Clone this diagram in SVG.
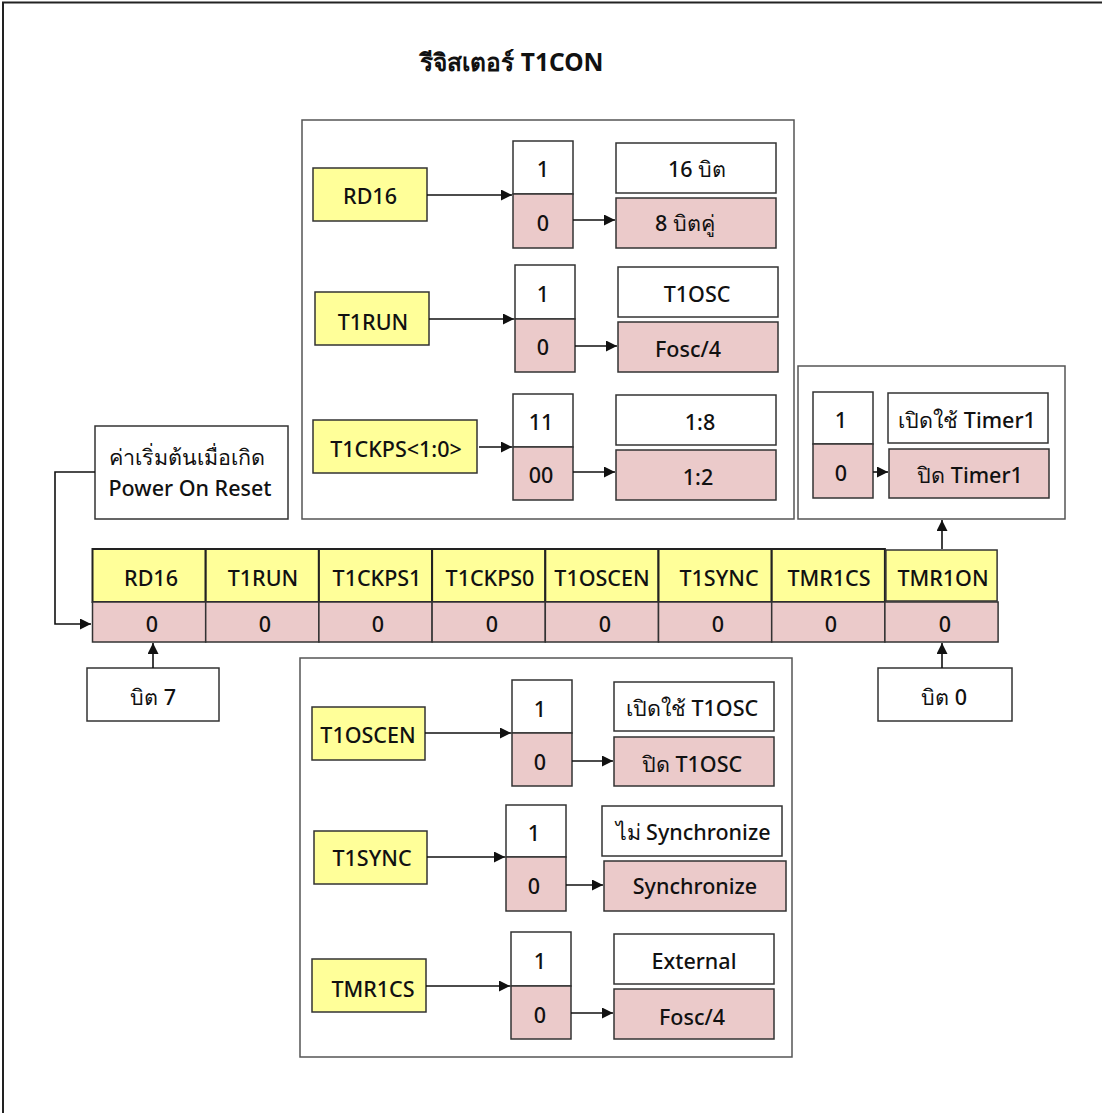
<svg xmlns="http://www.w3.org/2000/svg" width="1102" height="1113" viewBox="0 0 1102 1113">
  <style>
    text { font-family: "Noto Sans", "DejaVu Sans", sans-serif; font-size: 21.5px; font-weight: 500; fill: #111; text-anchor: middle; dominant-baseline: central; }
    .title { font-size: 24.5px; font-weight: bold; }
    .panel { fill: #fff; stroke: #555; stroke-width: 1.5; }
    .y { fill: #FFFF99; stroke: #333; stroke-width: 1.5; }
    .p { fill: #EBCACA; stroke: #333; stroke-width: 1.5; }
    .w { fill: #fff; stroke: #333; stroke-width: 1.5; }
    .cell { stroke: #222; stroke-width: 2; }
    .wire { fill: none; stroke: #111; stroke-width: 1.6; }
  </style>
  <defs>
    <marker id="ah" viewBox="0 0 10 10" refX="10" refY="5" markerWidth="12" markerHeight="11" markerUnits="userSpaceOnUse" orient="auto">
      <path d="M0,0 L10,5 L0,10 Z" fill="#111"/>
    </marker>
  </defs>

  <rect width="1102" height="1113" fill="#fff"/>
  <!-- outer frame -->
  <path d="M3,1113 V2.5 H1102" fill="none" stroke="#222" stroke-width="2"/>

  <text class="title" x="512" y="61">รีจิสเตอร์ T1CON</text>

  <!-- panel: RD16 / T1RUN / T1CKPS -->
  <g id="panel-top">
    <rect class="panel" x="302" y="120" width="492" height="399"/>
  </g>
  <g id="rd16-opt">
    <rect class="y" x="313" y="168" width="114" height="53"/>
    <text x="370" y="195">RD16</text>
    <rect class="w" x="513" y="141" width="60" height="53"/>
    <text x="543" y="168">1</text>
    <rect class="p" x="513" y="194" width="60" height="54"/>
    <text x="543" y="222">0</text>
    <rect class="w" x="616" y="143" width="160" height="50"/>
    <text x="697" y="168">16 บิต</text>
    <rect class="p" x="616" y="198" width="160" height="50"/>
    <text x="685" y="222">8 บิตคู่</text>
  </g>
  <g id="t1run-opt">
    <rect class="y" x="315" y="292" width="114" height="53"/>
    <text x="373" y="321">T1RUN</text>
    <rect class="w" x="515" y="265" width="60" height="54"/>
    <text x="543" y="293">1</text>
    <rect class="p" x="515" y="319" width="60" height="53"/>
    <text x="543" y="346">0</text>
    <rect class="w" x="618" y="267" width="160" height="50"/>
    <text x="697" y="293">T1OSC</text>
    <rect class="p" x="618" y="322" width="160" height="50"/>
    <text x="688" y="348">Fosc/4</text>
  </g>
  <g id="t1ckps-opt">
    <rect class="y" x="313" y="420" width="164" height="53"/>
    <text x="396" y="448">T1CKPS&lt;1:0&gt;</text>
    <rect class="w" x="513" y="394" width="60" height="53"/>
    <text x="541" y="421">11</text>
    <rect class="p" x="513" y="447" width="60" height="53"/>
    <text x="541" y="474">00</text>
    <rect class="w" x="616" y="395" width="160" height="50"/>
    <text x="700" y="421">1:8</text>
    <rect class="p" x="616" y="450" width="160" height="50"/>
    <text x="698" y="476">1:2</text>
  </g>

  <!-- panel: TMR1ON -->
  <g id="tmr1on-opt">
    <rect class="panel" x="798" y="366" width="267" height="153"/>
    <rect class="w" x="813" y="392" width="60" height="52"/>
    <text x="841" y="419">1</text>
    <rect class="p" x="813" y="444" width="60" height="54"/>
    <text x="841" y="472">0</text>
    <rect class="w" x="888" y="393" width="160" height="50"/>
    <text x="967" y="419">เปิดใช้ Timer1</text>
    <rect class="p" x="889" y="449" width="160" height="49"/>
    <text x="970" y="474">ปิด Timer1</text>
  </g>

  <!-- reset-value note and bit markers -->
  <g id="por-note">
    <rect class="w" x="95" y="426" width="193" height="93" stroke-width="2"/>
    <text x="187" y="456">ค่าเริ่มต้นเมื่อเกิด</text>
    <text x="190" y="487">Power On Reset</text>
  </g>
  <g id="bit7">
    <rect class="w" x="87" y="668" width="132" height="53"/>
    <text x="153" y="696">บิต 7</text>
  </g>
  <g id="bit0">
    <rect class="w" x="878" y="668" width="134" height="53"/>
    <text x="944" y="696">บิต 0</text>
  </g>

  <!-- T1CON register: names and reset values -->
  <g id="reg-t1con">
    <rect class="y cell" x="92.5" y="549" width="113.2" height="53"/>
    <rect class="y cell" x="205.7" y="549" width="113.2" height="53"/>
    <rect class="y cell" x="318.9" y="549" width="113.2" height="53"/>
    <rect class="y cell" x="432.1" y="549" width="113.2" height="53"/>
    <rect class="y cell" x="545.3" y="549" width="113.2" height="53"/>
    <rect class="y cell" x="658.5" y="549" width="113.2" height="53"/>
    <rect class="y cell" x="771.7" y="549" width="113.2" height="53"/>
    <rect class="y" x="885.9" y="550" width="111.2" height="51" stroke="#1a9bd7" stroke-width="2"/>
    <text x="151" y="577">RD16</text>
    <text x="263" y="577">T1RUN</text>
    <text x="377" y="577">T1CKPS1</text>
    <text x="490" y="577">T1CKPS0</text>
    <text x="602" y="577">T1OSCEN</text>
    <text x="719" y="577">T1SYNC</text>
    <text x="829" y="577">TMR1CS</text>
    <text x="943" y="577">TMR1ON</text>
    <rect class="p" x="92.5" y="602" width="113.2" height="40"/>
    <rect class="p" x="205.7" y="602" width="113.2" height="40"/>
    <rect class="p" x="318.9" y="602" width="113.2" height="40"/>
    <rect class="p" x="432.1" y="602" width="113.2" height="40"/>
    <rect class="p" x="545.3" y="602" width="113.2" height="40"/>
    <rect class="p" x="658.5" y="602" width="113.2" height="40"/>
    <rect class="p" x="771.7" y="602" width="113.2" height="40"/>
    <rect class="p" x="884.9" y="602" width="113.2" height="40"/>
    <text x="152" y="623">0</text>
    <text x="265" y="623">0</text>
    <text x="378" y="623">0</text>
    <text x="492" y="623">0</text>
    <text x="605" y="623">0</text>
    <text x="718" y="623">0</text>
    <text x="831" y="623">0</text>
    <text x="945" y="623">0</text>
  </g>

  <!-- panel: T1OSCEN / T1SYNC / TMR1CS -->
  <g id="panel-bottom">
    <rect class="panel" x="300" y="658" width="492" height="399"/>
  </g>
  <g id="t1oscen-opt">
    <rect class="y" x="312" y="707" width="113" height="53"/>
    <text x="368" y="734">T1OSCEN</text>
    <rect class="w" x="512" y="680" width="60" height="53"/>
    <text x="540" y="708">1</text>
    <rect class="p" x="512" y="733" width="60" height="53"/>
    <text x="540" y="761">0</text>
    <rect class="w" x="614" y="682" width="160" height="49"/>
    <text x="692" y="707">เปิดใช้ T1OSC</text>
    <rect class="p" x="614" y="737" width="160" height="49"/>
    <text x="692" y="763">ปิด T1OSC</text>
  </g>
  <g id="t1sync-opt">
    <rect class="y" x="314" y="831" width="113" height="53" stroke="#b8b800" stroke-width="2"/>
    <text x="372" y="857">T1SYNC</text>
    <rect class="w" x="506" y="805" width="60" height="52"/>
    <text x="534" y="832">1</text>
    <rect class="p" x="506" y="857" width="60" height="54"/>
    <text x="534" y="885">0</text>
    <rect class="w" x="602" y="806" width="180" height="50"/>
    <text x="693" y="831">ไม่ Synchronize</text>
    <rect class="p" x="604" y="861" width="182" height="50"/>
    <text x="695" y="885">Synchronize</text>
  </g>
  <g id="tmr1cs-opt">
    <rect class="y" x="312" y="959" width="114" height="53"/>
    <text x="373" y="988">TMR1CS</text>
    <rect class="w" x="511" y="932" width="60" height="54"/>
    <text x="540" y="960">1</text>
    <rect class="p" x="511" y="986" width="60" height="53"/>
    <text x="540" y="1014">0</text>
    <rect class="w" x="614" y="934" width="160" height="50"/>
    <text x="694" y="960">External</text>
    <rect class="p" x="614" y="989" width="160" height="50"/>
    <text x="692" y="1016">Fosc/4</text>
  </g>

  <!-- connectors -->
  <g id="connectors">
    <path class="wire" d="M427,195 H512" marker-end="url(#ah)"/>
    <path class="wire" d="M573,220 H615" marker-end="url(#ah)"/>
    <path class="wire" d="M429,319 H514" marker-end="url(#ah)"/>
    <path class="wire" d="M575,346 H617" marker-end="url(#ah)"/>
    <path class="wire" d="M479,447 H512" marker-end="url(#ah)"/>
    <path class="wire" d="M573,472 H615" marker-end="url(#ah)"/>
    <path class="wire" d="M873,472 H888" marker-end="url(#ah)"/>
    <path class="wire" d="M942,549 V520" marker-end="url(#ah)"/>
    <path class="wire" d="M95,472 H55 V624 H91" marker-end="url(#ah)"/>
    <path class="wire" d="M153,668 V643" marker-end="url(#ah)"/>
    <path class="wire" d="M942,668 V643" marker-end="url(#ah)"/>
    <path class="wire" d="M425,733 H511" marker-end="url(#ah)"/>
    <path class="wire" d="M572,761 H613" marker-end="url(#ah)"/>
    <path class="wire" d="M427,857 H505" marker-end="url(#ah)"/>
    <path class="wire" d="M566,885 H603" marker-end="url(#ah)"/>
    <path class="wire" d="M426,986 H510" marker-end="url(#ah)"/>
    <path class="wire" d="M571,1013 H613" marker-end="url(#ah)"/>
  </g>
</svg>
